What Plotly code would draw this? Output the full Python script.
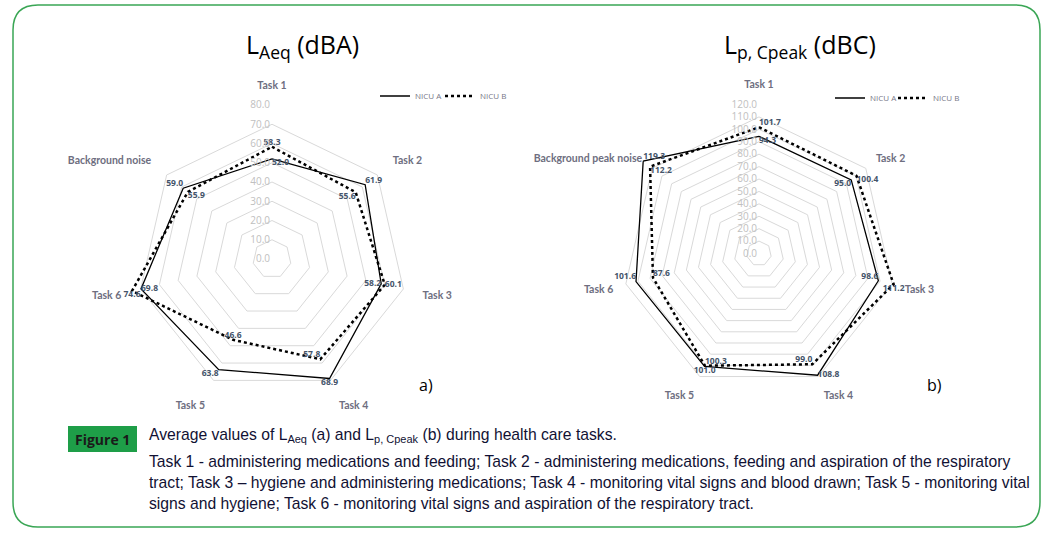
import plotly.graph_objects as go

cats_a = ["Task 1", "Task 2", "Task 3", "Task 4", "Task 5", "Task 6", "Background noise"]
cats_b = ["Task 1", "Task 2", "Task 3", "Task 4", "Task 5", "Task 6", "Background peak noise"]
laeq_a = [52.0, 61.9, 58.2, 68.9, 63.8, 69.8, 59.0]
laeq_b = [58.3, 55.6, 60.1, 57.8, 46.6, 74.6, 55.9]
lpc_a = [94.3, 95.0, 98.6, 108.8, 101.0, 101.6, 119.3]
lpc_b = [101.7, 100.4, 111.2, 99.0, 100.3, 87.6, 112.2]

pos_laeq_a = ["bottom right", "top right", "middle left", "bottom center", "bottom left", "middle right", "top left"]
pos_laeq_b = ["top center", "bottom left", "middle right", "top left", "top center", "bottom center", "bottom right"]
pos_lpc_a = ["bottom right", "bottom left", "top left", "middle right", "bottom center", "top left", "top right"]
pos_lpc_b = ["top right", "bottom right", "bottom center", "top left", "top right", "top right", "bottom right"]

W, H = 1047, 535
lblfont = dict(family="Open Sans", size=8.5, color="#44546a", weight="bold")


def closed(v):
    return list(v) + [v[0]]


def add_trace(fig, cats, vals, pos, name, dash, width, subplot, legend):
    fig.add_trace(go.Scatterpolar(
        r=closed(vals), theta=closed(cats), mode="lines+text",
        text=[f"{v:.1f}" for v in vals] + [" "],
        textposition=pos + [pos[0]],
        textfont=lblfont,
        line=dict(color="black", width=width, dash=dash),
        name=name, subplot=subplot, legend=legend, cliponaxis=False, hoverinfo="skip",
    ))


fig = go.Figure()
add_trace(fig, cats_a, laeq_a, pos_laeq_a, "NICU A", "solid", 1.3, "polar", "legend")
add_trace(fig, cats_a, laeq_b, pos_laeq_b, "NICU B", "dot", 2.5, "polar", "legend2")
add_trace(fig, cats_b, lpc_a, pos_lpc_a, "NICU A", "solid", 1.3, "polar2", "legend3")
add_trace(fig, cats_b, lpc_b, pos_lpc_b, "NICU B", "dot", 2.5, "polar2", "legend4")


def polar_cfg(cx, cy, R, rmax, cats):
    labels = [c + "<br> " if i == 0 else c for i, c in enumerate(cats)]
    return dict(
        domain=dict(x=[(cx - R) / W, (cx + R) / W], y=[(H - cy - R) / H, (H - cy + R) / H]),
        gridshape="linear", bgcolor="white",
        radialaxis=dict(range=[0, rmax], dtick=10, tick0=0, angle=90, tickangle=90,
                        tickformat=".1f", side="counterclockwise", showticklabels=True,
                        tickfont=dict(family="Open Sans", size=10, color="#c0c0c0"),
                        showline=False, ticks="", gridcolor="#d9d9d9", gridwidth=1),
        angularaxis=dict(direction="clockwise", rotation=90, showgrid=False, showline=False,
                         ticks="", tickmode="array", tickvals=cats, ticktext=labels,
                         categoryorder="array", categoryarray=cats,
                         tickfont=dict(family="Lato", size=10.5, color="#6e6e80", weight="bold")),
    )


def leg(xpx, ypx):
    return dict(x=xpx / W, y=(H - ypx) / H, orientation="h", yanchor="middle", xanchor="left",
                bgcolor="rgba(0,0,0,0)", font=dict(family="Open Sans", size=8, color="#777788"),
                itemwidth=30, itemclick=False)


fig.update_layout(
    width=W, height=H, paper_bgcolor="white", plot_bgcolor="white",
    margin=dict(l=0, r=0, t=0, b=0), showlegend=True,
    polar=polar_cfg(272, 259, 154, 80, cats_a),
    polar2=polar_cfg(759, 253.5, 149, 120, cats_b),
    legend=leg(375, 96), legend2=leg(440, 96),
    legend3=leg(830, 98), legend4=leg(893, 98),
)

ann = []
ann.append(dict(text="L<sub>Aeq</sub> (dBA)", x=302 / W, y=(H - 45) / H, font=dict(family="Open Sans", size=25, color="black")))
ann.append(dict(text="L<sub>p, Cpeak</sub> (dBC)", x=800 / W, y=(H - 45) / H, font=dict(family="Open Sans", size=25, color="black")))
ann.append(dict(text="a)", x=426 / W, y=(H - 385) / H, font=dict(family="Open Sans", size=16, color="black")))
ann.append(dict(text="b)", x=934 / W, y=(H - 385) / H, font=dict(family="Open Sans", size=16, color="black")))
ann.append(dict(text="Figure 1", x=102.5 / W, y=(H - 439) / H, font=dict(family="Open Sans", size=14, color="#1a1a1a", weight="bold")))

caption_lines = [
    "Average values of L<sub>Aeq</sub> (a) and L<sub>p, Cpeak</sub> (b) during health care tasks.",
    "Task 1 - administering medications and feeding; Task 2 - administering medications, feeding and aspiration of the respiratory",
    "tract; Task 3 \u2013 hygiene and administering medications; Task 4 - monitoring vital signs and blood drawn; Task 5 - monitoring vital",
    "signs and hygiene; Task 6 - monitoring vital signs and aspiration of the respiratory tract.",
]
ys = [435, 461, 482, 503]
for t, yy in zip(caption_lines, ys):
    ann.append(dict(text=t, x=147 / W, y=(H - yy) / H, xanchor="left",
                    font=dict(family="Liberation Sans", size=15.7, color="#111133")))

for a in ann:
    a.setdefault("xanchor", "center")
    a.update(xref="paper", yref="paper", yanchor="middle", showarrow=False)
fig.update_layout(annotations=ann)

# rounded border and Figure 1 badge
x0, y0, x1, y1, rr = 13 / W, 1 - 5 / H, 1040 / W, 1 - 527 / H, 25
rx, ry = rr / W, rr / H
path = (f"M {x0 + rx} {y0} L {x1 - rx} {y0} Q {x1} {y0} {x1} {y0 - ry} "
        f"L {x1} {y1 + ry} Q {x1} {y1} {x1 - rx} {y1} L {x0 + rx} {y1} "
        f"Q {x0} {y1} {x0} {y1 + ry} L {x0} {y0 - ry} Q {x0} {y0} {x0 + rx} {y0} Z")
fig.add_shape(type="path", path=path, xref="paper", yref="paper",
              line=dict(color="#3aa655", width=1.5), layer="below")
fig.add_shape(type="rect", xref="paper", yref="paper", x0=68 / W, x1=137 / W,
              y0=1 - 452 / H, y1=1 - 426 / H, fillcolor="#1e9e48", line=dict(width=0), layer="below")

fig.write_html("out.html", config={"displayModeBar": False},
               post_script="document.body.style.margin='0';document.body.style.overflow='hidden';")
